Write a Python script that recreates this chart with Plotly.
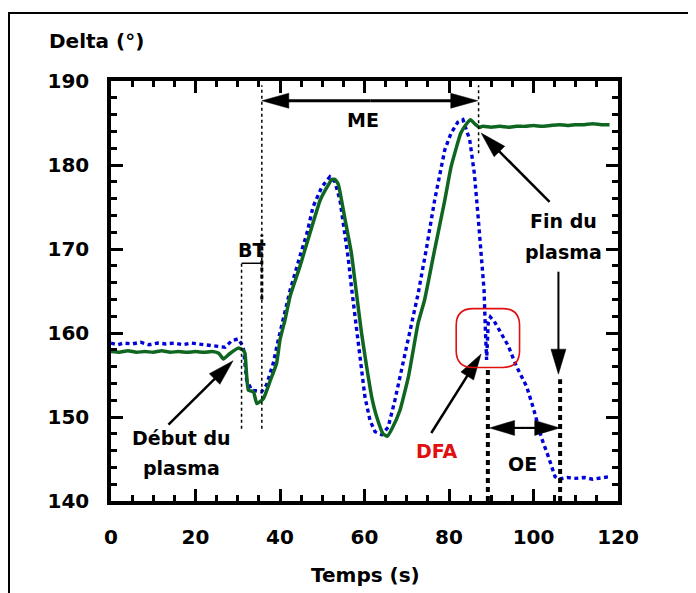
import math
import plotly.graph_objects as go

# ---------------- data ----------------
green_t = [0, 2, 4, 6, 8, 10, 12, 14, 16, 18, 20, 22, 24, 25.5, 26.6, 28, 30.1, 31.2, 31.7,
           32.5, 33.7, 34.5, 35.2, 36.1, 37.6, 39.2, 40.0, 41.2, 42.4, 44.7, 47.1, 49.5,
           51.4, 52.3, 53.0, 53.8, 55.4, 56.9, 58.1, 59.3, 60.5, 61.7, 62.9, 64.4, 65.4, 66.5,
           68.4, 70.4, 72.7, 74.2, 76.6, 79.0, 80.5, 82.8, 84.3, 85.1, 86.3, 87.2, 88, 90, 92,
           94, 96, 98, 100, 102, 104, 106, 108, 110, 112, 114, 116, 118]
green_delta = [157.8, 157.7, 157.9, 157.7, 157.8, 157.7, 157.9, 157.7, 157.8, 157.7, 157.8,
               157.7, 157.8, 157.6, 156.9, 157.5, 158.2, 158.0, 157.6, 153.2, 153.0, 151.6,
               151.8, 152.2, 154.2, 156.4, 159.2, 161.6, 164.4, 167.9, 171.9, 175.8, 177.6,
               178.3, 178.3, 177.7, 173.5, 169.5, 164.7, 160.0, 156.0, 152.4, 150.0, 148.0, 147.7,
               148.6, 150.8, 154.8, 161.2, 163.9, 169.9, 175.8, 179.8, 183.8, 185.0, 185.4, 184.8,
               184.5, 184.6, 184.5, 184.6, 184.5, 184.6, 184.6, 184.7, 184.6, 184.7, 184.8,
               184.7, 184.8, 184.8, 184.9, 184.8, 184.8]

blue_t = [0, 1.5, 3, 5, 7, 9, 11, 13, 15, 17, 19, 21, 23, 25, 27, 28.6, 30.1, 31.3, 32.1,
          33.3, 35.6, 36.8, 38.4, 39.6, 40.8, 42.4, 44.7, 46.4, 47.8, 49.9, 51.8, 53.0,
          54.2, 55.4, 56.2, 56.9, 57.7, 58.5, 59.3, 60.1, 61.3, 62.5, 64.1, 65.6, 67.2,
          68.8, 70.4, 72.7, 74.6, 76.6, 79.0, 80.5, 82.1, 83.3, 84.9, 86.0, 86.9, 87.5,
          88.3, 88.6, 88.9, 89.3, 89.8, 90.7, 92.4, 94.0, 96.0, 98.4, 100.0, 101.9, 103.5,
          105.1, 106.0, 108, 110, 112, 114, 116, 118]
blue_delta = [158.8, 158.6, 158.8, 158.7, 158.9, 158.6, 158.8, 158.7, 158.8, 158.6, 158.8,
              158.7, 158.6, 158.4, 158.3, 159.1, 159.3, 158.4, 154.4, 153.2, 153.0, 153.8,
              156.4, 159.2, 161.6, 165.1, 169.1, 171.9, 175.0, 177.4, 178.6, 178.0, 175.8,
              171.9, 168.7, 165.5, 162.3, 158.8, 155.6, 152.4, 149.6, 148.25, 147.9, 148.8,
              152.0, 155.6, 159.6, 164.7, 169.9, 175.8, 181.8, 183.8, 185.1, 185.4, 183.0,
              179.0, 173.8, 169.9, 165.1, 160.5, 156.8, 161.3, 161.9, 161.4, 160.0, 158.5,
              156.0, 153.6, 151.0, 147.5, 145.3, 142.9, 142.6, 142.8, 142.7, 142.8, 142.6,
              142.8, 142.9]

x_ticks = [0, 20, 40, 60, 80, 100, 120]
y_ticks = [140, 150, 160, 170, 180, 190]

# event times (s)
t_bt_start, t_me_start, t_me_end, t_dfa, t_oe_end = 30.9, 35.7, 87.0, 89.2, 106.3

# ---------------- layout geometry ----------------
# the page body adds an 8px offset, so the figure is laid out 8px up/left
OFF = 8
W, H = 696, 593
ML, MT = 111 - OFF, 81 - OFF
PW, PH = 507, 420
MR, MB = W - ML - PW, H - MT - PH
XR, YR = (0, 120), (140, 190)
PX_X = PW / (XR[1] - XR[0])
PX_Y = PH / (YR[1] - YR[0])


def px_to_paper_x(px):
    return (px - OFF - ML) / PW


def px_to_paper_y(py):
    return (MT + PH - (py - OFF)) / PH


FONT = "DejaVu Sans"
GREEN = "#0f6620"
BLUE = "#0000d8"
RED = "#e01010"

fig = go.Figure()
fig.add_trace(go.Scatter(x=blue_t, y=blue_delta, mode="lines",
                         line=dict(color=BLUE, width=3.4, dash="4px,3.5px"),
                         showlegend=False, hoverinfo="skip"))
fig.add_trace(go.Scatter(x=green_t, y=green_delta, mode="lines",
                         line=dict(color=GREEN, width=3.5, shape="spline", smoothing=0.4),
                         showlegend=False, hoverinfo="skip"))

shapes = []


def vline(x, y0, y1, width, dash):
    shapes.append(dict(type="line", xref="x", yref="y", x0=x, x1=x, y0=y0, y1=y1,
                       line=dict(color="black", width=width, dash=dash)))


def arrow(xs, ys, xt, yt, width=2.5, L=24, Wd=14, color="black"):
    dx = (xt - xs) * PX_X
    dy = (yt - ys) * PX_Y
    n = math.hypot(dx, dy)
    ux, uy = dx / n, dy / n
    xe = xt - (L * 0.6) * ux / PX_X
    ye = yt - (L * 0.6) * uy / PX_Y
    shapes.append(dict(type="line", xref="x", yref="y", x0=xs, y0=ys, x1=xe, y1=ye,
                       line=dict(color=color, width=width)))
    bx, by = -L * ux, -L * uy
    px, py = -uy * Wd / 2, ux * Wd / 2
    path = (f"M0,0 L{bx + px:.2f},{by + py:.2f} "
            f"L{bx - px:.2f},{by - py:.2f} Z")
    shapes.append(dict(type="path", xref="x", yref="y", xsizemode="pixel",
                       ysizemode="pixel", xanchor=xt, yanchor=yt, path=path,
                       fillcolor=color, line=dict(color=color, width=0.5)))


# dotted event lines
vline(t_bt_start, 148.6, 168.3, 1.5, "3px,3px")
vline(t_me_start, 148.6, 189.5, 1.5, "3px,3px")
vline(t_me_start, 164.0, 171.7, 3, "4px,3px")
shapes.append(dict(type="line", xref="x", yref="y", x0=t_bt_start, x1=t_me_start,
                   y0=168.3, y1=168.3, line=dict(color="black", width=1.5)))
vline(t_me_end, 181.4, 189.5, 1.5, "3px,3px")
vline(t_dfa, 140, 155.9, 4, "5px,4px")
vline(t_oe_end, 140, 154.5, 4, "5px,4px")

# arrows
me_mid = (t_me_start + t_me_end) / 2
arrow(me_mid, 187.65, t_me_start, 187.65, width=3.2, L=27, Wd=15)
arrow(me_mid, 187.65, t_me_end - 0.2, 187.65, width=3.2, L=27, Wd=15)
oe_mid = 98.0
arrow(oe_mid, 148.7, t_dfa + 0.4, 148.7, width=2.2, L=25, Wd=15)
arrow(oe_mid, 148.7, t_oe_end - 0.1, 148.7, width=2.2, L=25, Wd=15)
arrow(103.8, 175.6, 87.6, 183.8, width=2.5, L=26, Wd=15)
arrow(105.9, 167.3, 105.9, 155.1, width=2, L=25, Wd=15)
arrow(13.6, 149.1, 28.9, 156.7, width=2.5, L=26, Wd=15)
arrow(75.8, 148.1, 87.6, 157.5, width=2.5, L=26, Wd=15)

# red rounded box around DFA
bx0, bx1, by0, by1 = 81.7, 96.7, 155.9, 162.9
rx, ry = 17 / PX_X, 17 / PX_Y
box = (f"M{bx0 + rx},{by1} L{bx1 - rx},{by1} Q{bx1},{by1} {bx1},{by1 - ry} "
       f"L{bx1},{by0 + ry} Q{bx1},{by0} {bx1 - rx},{by0} L{bx0 + rx},{by0} "
       f"Q{bx0},{by0} {bx0},{by0 + ry} L{bx0},{by1 - ry} Q{bx0},{by1} {bx0 + rx},{by1} Z")
shapes.append(dict(type="path", xref="x", yref="y", path=box,
                   line=dict(color=RED, width=1.6)))

# outer frame
shapes.append(dict(type="rect", xref="paper", yref="paper",
                   x0=px_to_paper_x(9), x1=1.3, y0=-0.4, y1=px_to_paper_y(13),
                   line=dict(color="black", width=2)))

lab = dict(family=FONT, size=19, color="black", weight="bold")
annotations = [
    dict(x=33.2, y=169.9, text="BT"),
    dict(x=59.7, y=185.3, text="ME"),
    dict(x=107.2, y=173.3, text="Fin du"),
    dict(x=107.2, y=169.6, text="plasma"),
    dict(x=16.7, y=147.5, text="Début du"),
    dict(x=16.7, y=143.9, text="plasma"),
    dict(x=97.3, y=144.4, text="OE"),
    dict(x=77.2, y=146.0, text="DFA", font=dict(family=FONT, size=19, color=RED, weight="bold")),
]
for a in annotations:
    a.setdefault("font", lab)
    a.update(xref="x", yref="y", showarrow=False, xanchor="center", yanchor="middle")

annotations.append(dict(xref="paper", yref="paper", x=px_to_paper_x(47), y=px_to_paper_y(41),
                        text="Delta (°)", showarrow=False, xanchor="left", yanchor="middle",
                        font=dict(family=FONT, size=20, color="black", weight="bold")))
annotations.append(dict(xref="paper", yref="paper", x=px_to_paper_x(365), y=px_to_paper_y(575),
                        text="Temps (s)", showarrow=False, xanchor="center", yanchor="middle",
                        font=dict(family=FONT, size=20, color="black", weight="bold")))

axis_common = dict(showline=True, linecolor="black", linewidth=3.5, mirror="allticks",
                   ticks="inside", ticklen=12, tickwidth=3, tickcolor="black",
                   showgrid=False, zeroline=False, automargin=False,
                   tickfont=dict(family=FONT, size=20, color="black", weight="bold"))

fig.update_layout(
    width=W, height=H,
    margin=dict(l=ML, r=MR, t=MT, b=MB, autoexpand=False),
    paper_bgcolor="white", plot_bgcolor="white",
    showlegend=False,
    shapes=shapes,
    annotations=annotations,
    xaxis=dict(range=list(XR), tickvals=x_ticks, ticklabelstandoff=15,
               minor=dict(dtick=5, tick0=0, ticks="inside", ticklen=6, tickwidth=2.5,
                          tickcolor="black", showgrid=False),
               **axis_common),
    yaxis=dict(range=list(YR), tickvals=y_ticks, ticklabelstandoff=14,
               minor=dict(dtick=2, tick0=140, ticks="inside", ticklen=6, tickwidth=2.5,
                          tickcolor="black", showgrid=False),
               **axis_common),
)

fig.write_html("out.html")
